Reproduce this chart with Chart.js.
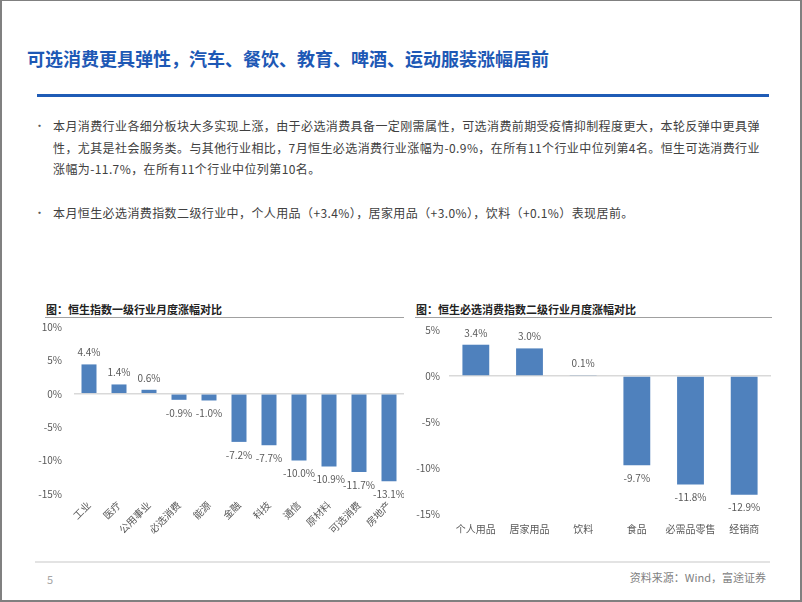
<!DOCTYPE html>
<html><head><meta charset="utf-8">
<script src="https://cdn.jsdelivr.net/npm/chart.js@4/dist/chart.umd.min.js"></script>
<style>
html,body{margin:0;padding:0;background:#fff;}
#page{position:relative;width:802px;height:602px;box-sizing:border-box;border:2px solid #808080;border-top-width:1px;overflow:hidden;font-family:"Noto Sans CJK SC","Noto Sans",sans-serif;}
.abs{position:absolute;white-space:nowrap;}
#title{left:25px;top:45px;font-size:18px;font-weight:bold;color:#1d58b5;line-height:24px;}
#blue{left:35px;top:93px;width:732px;height:3px;background:#1f5cb6;}
.para{left:51px;font-size:12px;letter-spacing:0.4px;color:#404040;line-height:21.5px;}
.bul{left:32px;font-size:11px;color:#595959;line-height:21.5px;}
.ctitle{font-size:11px;font-weight:bold;color:#222;line-height:14px;}
.uline{height:1px;background:#a0a0a0;}
#bottom{left:33px;top:560px;width:735px;height:2px;background:#e3e3e3;}
#pnum{left:45px;top:570px;font-size:11px;color:#a6a6a6;}
#src{right:34px;top:568px;font-size:11px;color:#7f7f7f;}
canvas{display:block;}
</style></head>
<body>
<div id="page">
  <div id="title" class="abs">可选消费更具弹性，汽车、餐饮、教育、啤酒、运动服装涨幅居前</div>
  <div id="blue" class="abs"></div>
  <div class="abs bul" style="top:114px;">•</div>
  <div class="abs para" style="top:114px;">本月消费行业各细分板块大多实现上涨，由于必选消费具备一定刚需属性，可选消费前期受疫情抑制程度更大，本轮反弹中更具弹<br>性，尤其是社会服务类。与其他行业相比，7月恒生必选消费行业涨幅为-0.9%，在所有11个行业中位列第4名。恒生可选消费行业<br>涨幅为-11.7%，在所有11个行业中位列第10名。</div>
  <div class="abs bul" style="top:201px;">•</div>
  <div class="abs para" style="top:201px;">本月恒生必选消费指数二级行业中，个人用品（+3.4%），居家用品（+3.0%），饮料（+0.1%）表现居前。</div>

  <div class="abs ctitle" style="left:44px;top:301px;">图：恒生指数一级行业月度涨幅对比</div>
  <div class="abs uline" style="left:43px;top:316px;width:359px;"></div>
  <div class="abs ctitle" style="left:414px;top:301px;">图：恒生必选消费指数二级行业月度涨幅对比</div>
  <div class="abs uline" style="left:413px;top:316px;width:357px;"></div>

  <div class="abs" style="left:30px;top:308px;width:372px;height:242px;"><canvas id="c1" width="372" height="242"></canvas></div>
  <div class="abs" style="left:410px;top:314px;width:359px;height:226px;"><canvas id="c2" width="359" height="226"></canvas></div>

  <div id="bottom" class="abs"></div>
  <div id="pnum" class="abs">5</div>
  <div id="src" class="abs">资料来源：Wind，富途证券</div>
</div>
<script>
const cats1 = ['工业','医疗','公用事业','必选消费','能源','金融','科技','通信','原材料','可选消费','房地产'];
const vals1 = [4.4, 1.4, 0.6, -0.9, -1.0, -7.2, -7.7, -10.0, -10.9, -11.7, -13.1];
const ticks1 = [10, 5, 0, -5, -10, -15];

const cats2 = ['个人用品','居家用品','饮料','食品','必需品零售','经销商'];
const vals2 = [3.4, 3.0, 0.1, -9.7, -11.8, -12.9];
const ticks2 = [5, 0, -5, -10, -15];

const FONT = '"Noto Sans CJK SC","Noto Sans",sans-serif';
const BAR = '#4f81bd';
const TXT = '#595959';

const labelPlugin = {
  id: 'vlabels',
  afterDatasetsDraw(chart) {
    const ctx = chart.ctx;
    const meta = chart.getDatasetMeta(0);
    const data = chart.data.datasets[0].data;
    ctx.save();
    ctx.font = '10px ' + FONT;
    ctx.fillStyle = TXT;
    ctx.textAlign = 'center';
    ctx.textBaseline = 'middle';
    meta.data.forEach((el, i) => {
      const v = data[i];
      const y = v >= 0 ? el.y - 12 : el.y + 13;
      ctx.fillText(v.toFixed(1) + '%', el.x, y);
    });
    ctx.restore();
  }
};

function makeChart(id, cats, vals, tickVals, yWidth, tickPad, xHeight, rot, padTop, xPad) {
  return new Chart(document.getElementById(id), {
    type: 'bar',
    data: { labels: cats, datasets: [{ data: vals, backgroundColor: BAR, barPercentage: 0.5, categoryPercentage: 1.0 }] },
    options: {
      responsive: false,
      animation: false,
      layout: { padding: { top: padTop, right: 0, left: 0, bottom: 0 } },
      plugins: { legend: { display: false }, tooltip: { enabled: false } },
      scales: {
        x: {
          grid: { display: false, drawTicks: false },
          border: { display: false },
          ticks: { color: TXT, font: { family: FONT, size: 10 }, maxRotation: rot, minRotation: rot, padding: xPad, autoSkip: false },
          afterFit(s) { s.height = xHeight; }
        },
        y: {
          min: Math.min(...tickVals), max: Math.max(...tickVals),
          afterBuildTicks(s) { s.ticks = tickVals.map(v => ({ value: v })); },
          grid: { drawTicks: false, color: c => (c.tick && c.tick.value === 0) ? '#d9d9d9' : 'rgba(0,0,0,0)', lineWidth: 1.5 },
          border: { display: false },
          ticks: { color: TXT, font: { family: FONT, size: 10 }, padding: tickPad, callback: v => v + '%' },
          afterFit(s) { s.width = yWidth; }
        }
      }
    },
    plugins: [labelPlugin]
  });
}

makeChart('c1', cats1, vals1, ticks1, 42, 12, 57, 45, 9, 5);
makeChart('c2', cats2, vals2, ticks2, 37, 9, 27, 0, 10, 9);
</script>
</body></html>
